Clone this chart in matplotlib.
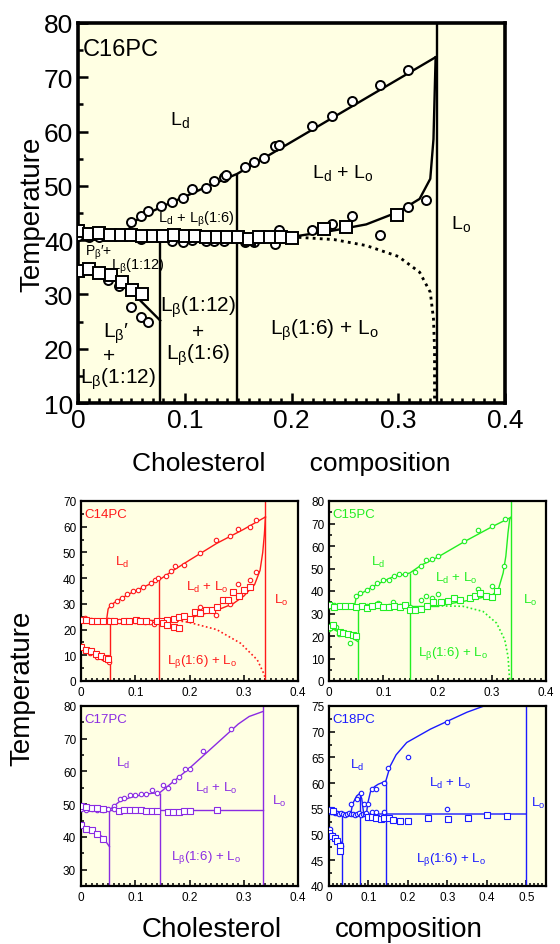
import matplotlib
matplotlib.use('Agg')
import matplotlib.pyplot as plt
from matplotlib.ticker import MultipleLocator, FuncFormatter

plt.rcParams['font.family'] = ['Liberation Sans', 'DejaVu Sans']
plt.rcParams['mathtext.fontset'] = 'custom'
plt.rcParams['mathtext.rm'] = 'Liberation Sans'

BG = '#ffffe3'

# ---------------- C16PC (main panel) ----------------
c16_liq_x = [0.050, 0.059, 0.066, 0.078, 0.088, 0.098, 0.107, 0.120, 0.127, 0.137, 0.139,
             0.156, 0.165, 0.174, 0.185, 0.188, 0.219, 0.238, 0.257, 0.283, 0.309]
c16_liq_t = [43.3, 44.4, 45.3, 46.3, 47.0, 47.7, 49.4, 49.6, 50.9, 51.7, 52.0,
             53.4, 54.4, 55.2, 57.4, 57.5, 61.0, 62.8, 65.7, 68.5, 71.3]
c16_sol_x = [0.0, 0.01, 0.02, 0.059, 0.088, 0.098, 0.107, 0.120, 0.127, 0.137, 0.156, 0.165,
             0.185, 0.188, 0.219, 0.238, 0.257, 0.283, 0.309, 0.326]
c16_sol_t = [40.7, 40.6, 40.6, 40.2, 39.8, 39.6, 40.0, 39.8, 39.8, 39.8, 39.6, 39.7,
             39.2, 41.9, 41.9, 42.9, 44.4, 41.0, 46.1, 47.4]
c16_pre_cx = [0.028, 0.038, 0.050, 0.059, 0.066]
c16_pre_ct = [32.7, 31.5, 27.7, 25.8, 25.0]
c16_sq_x = [0.0, 0.01, 0.02, 0.03, 0.04, 0.05, 0.06, 0.07, 0.08, 0.09, 0.10, 0.11, 0.12, 0.13,
            0.14, 0.15, 0.16, 0.17, 0.18, 0.19, 0.20, 0.23, 0.251, 0.299]
c16_sq_t = [41.7, 41.2, 41.3, 41.0, 40.9, 40.9, 40.8, 40.8, 40.7, 40.9, 40.7, 40.7, 40.6, 40.5,
            40.5, 40.5, 40.3, 40.5, 40.5, 40.5, 40.4, 42.1, 42.5, 44.7]
c16_pre_sx = [0.0, 0.01, 0.02, 0.031, 0.041, 0.051, 0.060]
c16_pre_st = [34.4, 34.6, 34.0, 33.6, 32.2, 30.9, 30.1]
c16_ld_x = [0.045, 0.050, 0.060, 0.080, 0.100, 0.120, 0.149, 0.335]
c16_ld_t = [40.7, 43.0, 44.4, 46.3, 48.0, 49.8, 52.2, 73.7]
c16_lo_x = [0.20, 0.24, 0.27, 0.30, 0.32, 0.33, 0.333, 0.335]
c16_lo_t = [40.6, 41.8, 42.9, 45.2, 47.6, 51.3, 58.6, 73.7]
c16_tm_x = [0.0, 0.20]
c16_tm_t = [40.7, 40.6]
c16_dot_x = [0.20, 0.24, 0.27, 0.30, 0.32, 0.33, 0.333, 0.334, 0.334]
c16_dot_t = [40.6, 40.1, 39.0, 37.0, 34.1, 30.4, 25.5, 20.0, 10.0]
c16_pl_x = [0.0, 0.03, 0.045, 0.077]
c16_pl_t = [34.5, 33.3, 31.5, 25.2]
c16_vx = [0.077, 0.149, 0.336]
c16_vtop = [40.7, 52.2, 80]

# ---------------- C14PC ----------------
c14_liq_x = [0.055, 0.066, 0.076, 0.085, 0.096, 0.105, 0.115, 0.129, 0.136, 0.142, 0.157, 0.165,
             0.174, 0.190, 0.219, 0.249, 0.275, 0.289, 0.311, 0.323]
c14_liq_t = [29.4, 31.0, 32.3, 34.0, 34.9, 35.3, 36.5, 38.1, 39.2, 40.1, 41.0, 42.7,
             44.9, 45.3, 49.8, 54.8, 56.3, 59.3, 59.9, 62.8]
c14_sol_x = [0.0, 0.008, 0.018, 0.03, 0.04, 0.05, 0.07, 0.085, 0.10, 0.118, 0.128, 0.135,
             0.150, 0.160, 0.219, 0.249, 0.275, 0.289, 0.311, 0.323]
c14_sol_t = [24.2, 24.5, 23.8, 23.5, 23.4, 23.6, 23.4, 23.2, 23.3, 23.0, 22.9, 22.0,
             22.6, 22.3, 28.8, 25.8, 30.0, 37.9, 39.2, 42.3]
c14_pre_cx = [0.0, 0.017, 0.03, 0.04, 0.052]
c14_pre_ct = [13.8, 10.8, 9.5, 8.9, 7.4]
c14_sq_x = [0.0, 0.01, 0.02, 0.03, 0.04, 0.053, 0.06, 0.08, 0.088, 0.102, 0.109, 0.12, 0.14,
            0.15, 0.159, 0.171, 0.151, 0.158, 0.171, 0.18, 0.18, 0.19, 0.20, 0.211, 0.22, 0.23,
            0.242, 0.251, 0.261, 0.271, 0.281, 0.291, 0.301, 0.311]
c14_sq_t = [23.8, 23.6, 23.4, 23.4, 23.4, 23.5, 23.4, 23.2, 23.3, 23.6, 23.2, 23.2, 23.3,
            23.4, 23.9, 24.0, 22.5, 21.9, 21.0, 20.6, 24.7, 25.4, 24.2, 26.7, 26.4, 27.5,
            27.5, 28.8, 31.4, 31.4, 34.6, 33.2, 35.3, 36.6]
c14_pre_sx = [0.0, 0.01, 0.018, 0.028, 0.036, 0.046, 0.05]
c14_pre_st = [13.4, 12.1, 11.5, 10.4, 9.9, 9.1, 8.4]
c14_ld_x = [0.047, 0.050, 0.055, 0.07, 0.09, 0.11, 0.13, 0.144, 0.17, 0.20, 0.25, 0.30, 0.34]
c14_ld_t = [23.6, 28.0, 29.6, 31.6, 34.0, 36.0, 38.0, 39.3, 43.0, 47.0, 53.5, 59.0, 63.8]
c14_lo_x = [0.17, 0.20, 0.25, 0.28, 0.30, 0.32, 0.33, 0.335, 0.338, 0.34]
c14_lo_t = [23.6, 24.5, 27.5, 30.0, 33.0, 37.5, 43.0, 50.0, 57.0, 63.8]
c14_tm_x = [0.0, 0.17]
c14_tm_t = [23.6, 23.6]
c14_dot_x = [0.17, 0.197, 0.25, 0.294, 0.325, 0.338, 0.34]
c14_dot_t = [23.6, 22.9, 20.0, 14.7, 8.2, 2.4, 0.0]
c14_pl_x = [0.0, 0.02, 0.04, 0.054]
c14_pl_t = [13.2, 11.2, 9.5, 7.0]
c14_vx = [0.054, 0.144, 0.34]
c14_vtop = [23.6, 39.3, 70]

# ---------------- C15PC ----------------
c15_liq_x = [0.049, 0.058, 0.070, 0.079, 0.089, 0.100, 0.110, 0.119, 0.129, 0.140, 0.159, 0.169,
             0.178, 0.189, 0.200, 0.249, 0.274, 0.300, 0.324, 0.323]
c15_liq_t = [37.9, 39.1, 40.6, 41.8, 43.6, 44.8, 45.1, 46.8, 47.6, 47.7, 48.3, 51.3,
             54.0, 54.4, 55.5, 62.2, 67.1, 68.8, 71.8, 51.0]
c15_sol_x = [0.0, 0.01, 0.03, 0.05, 0.07, 0.09, 0.11, 0.118, 0.13, 0.15, 0.169, 0.178, 0.189,
             0.200, 0.274, 0.300]
c15_sol_t = [33.5, 34.0, 33.2, 33.0, 33.2, 34.5, 33.5, 34.9, 33.4, 33.0, 36.1, 37.9, 36.9,
             38.8, 40.9, 42.1]
c15_pre_cx = [0.0, 0.012, 0.018, 0.038]
c15_pre_ct = [23.0, 24.2, 21.0, 16.8]
c15_sq_x = [0.0, 0.01, 0.02, 0.03, 0.04, 0.05, 0.06, 0.07, 0.08, 0.09, 0.10, 0.11, 0.12, 0.13,
            0.14, 0.149, 0.158, 0.169, 0.18, 0.192, 0.207, 0.22, 0.23, 0.241, 0.26, 0.269,
            0.279, 0.29, 0.30, 0.31]
c15_sq_t = [33.6, 33.0, 33.2, 33.4, 33.3, 33.0, 33.2, 32.6, 33.4, 33.8, 33.0, 32.8, 33.5, 33.0,
            33.6, 31.4, 31.4, 32.0, 33.5, 34.9, 34.9, 35.4, 36.9, 36.1, 36.9, 37.6,
            39.1, 37.6, 37.3, 39.9]
c15_pre_sx = [0.0, 0.007, 0.02, 0.026, 0.035, 0.044, 0.05]
c15_pre_st = [24.2, 25.0, 22.0, 21.3, 21.0, 20.5, 20.0]
c15_ld_x = [0.047, 0.05, 0.06, 0.08, 0.10, 0.12, 0.14, 0.149, 0.17, 0.20, 0.25, 0.30, 0.335]
c15_ld_t = [33.3, 37.0, 39.0, 41.8, 44.3, 46.5, 47.5, 48.0, 51.5, 55.0, 62.0, 68.5, 72.7]
c15_lo_x = [0.20, 0.25, 0.30, 0.312, 0.321, 0.326, 0.33, 0.333, 0.335]
c15_lo_t = [33.4, 35.5, 38.0, 40.6, 48.0, 55.5, 65.9, 71.8, 72.7]
c15_tm_x = [0.0, 0.20]
c15_tm_t = [33.4, 33.4]
c15_dot_x = [0.20, 0.247, 0.284, 0.309, 0.324, 0.33, 0.333]
c15_dot_t = [33.4, 33.2, 30.9, 25.7, 18.3, 10.9, 0.3]
c15_pl_x = [0.0, 0.02, 0.04, 0.0535]
c15_pl_t = [24.0, 21.5, 19.5, 17.5]
c15_vx = [0.0535, 0.149, 0.335]
c15_vtop = [33.4, 48.0, 80]

# ---------------- C17PC ----------------
c17_liq_x = [0.06, 0.071, 0.08, 0.091, 0.10, 0.11, 0.12, 0.131, 0.141, 0.151, 0.16, 0.171,
             0.181, 0.191, 0.20, 0.225, 0.276]
c17_liq_t = [49.4, 51.7, 51.9, 52.8, 52.8, 53.2, 53.2, 54.3, 53.3, 55.8, 54.8, 57.2,
             58.3, 60.8, 60.8, 66.4, 73.1]
c17_sol_x = [0.0, 0.01, 0.02, 0.03, 0.04, 0.05, 0.06]
c17_sol_t = [48.4, 48.3, 48.4, 48.3, 48.2, 48.4, 48.6]
c17_sq_x = [0.0, 0.01, 0.02, 0.03, 0.04, 0.07, 0.08, 0.09, 0.10, 0.11, 0.12, 0.13, 0.14,
            0.16, 0.17, 0.18, 0.19, 0.20, 0.25]
c17_sq_t = [49.4, 49.0, 48.8, 48.7, 48.6, 48.0, 48.3, 48.2, 48.2, 48.2, 48.0, 48.0, 48.0,
            47.7, 47.7, 47.6, 48.0, 48.0, 48.2]
c17_pre_sx = [0.0, 0.01, 0.02, 0.03, 0.04]
c17_pre_st = [43.6, 42.4, 42.0, 41.0, 39.4]
c17_ld_x = [0.0525, 0.06, 0.07, 0.09, 0.11, 0.13, 0.145, 0.16, 0.20, 0.25, 0.29, 0.31, 0.335]
c17_ld_t = [48.2, 49.3, 50.7, 52.0, 52.8, 53.3, 53.5, 55.5, 61.0, 68.5, 74.5, 76.8, 78.3]
c17_tm_x = [0.0, 0.335]
c17_tm_t = [48.2, 48.2]
c17_pl_x = [0.0, 0.02, 0.04, 0.0525]
c17_pl_t = [43.8, 42.0, 40.0, 37.0]
c17_vx = [0.0525, 0.145, 0.335]
c17_vtop = [48.2, 53.5, 80]

# ---------------- C18PC ----------------
c18_liq_x = [0.057, 0.070, 0.080, 0.088, 0.099, 0.108, 0.119, 0.140, 0.149, 0.199, 0.299]
c18_liq_t = [55.9, 57.0, 58.0, 55.9, 55.9, 58.9, 58.9, 60.0, 62.9, 65.0, 71.9]
c18_sol_x = [0.0, 0.005, 0.01, 0.015, 0.02, 0.025, 0.03, 0.035, 0.04, 0.045, 0.05, 0.055,
             0.06, 0.065, 0.07, 0.075, 0.08, 0.085, 0.09, 0.095, 0.108, 0.119, 0.140, 0.299]
c18_sol_t = [54.6, 54.4, 54.3, 54.2, 54.1, 54.0, 54.1, 54.0, 53.9, 54.0, 54.1, 54.0,
             54.0, 53.9, 54.0, 54.1, 53.8, 54.0, 54.0, 54.1, 54.4, 54.4, 54.4, 54.9]
c18_pre_cx = [0.0, 0.003, 0.006, 0.01, 0.014, 0.018, 0.022, 0.026, 0.03]
c18_pre_ct = [50.7, 51.0, 50.2, 49.8, 49.6, 49.2, 48.7, 48.3, 47.8]
c18_sq_x = [0.0, 0.005, 0.01, 0.098, 0.108, 0.119, 0.131, 0.14, 0.151, 0.161, 0.179, 0.199,
            0.25, 0.301, 0.353, 0.401, 0.452]
c18_sq_t = [54.8, 54.7, 54.5, 53.4, 53.5, 53.2, 53.1, 53.2, 53.2, 52.8, 52.6, 52.6,
            53.2, 53.0, 53.3, 53.8, 53.7]
c18_pre_sx = [0.0, 0.008, 0.015, 0.021, 0.027, 0.029]
c18_pre_st = [50.4, 49.8, 49.4, 48.7, 47.8, 46.8]
c18_ld_x = [0.144, 0.155, 0.17, 0.197, 0.257, 0.299, 0.35, 0.393, 0.45]
c18_ld_t = [60.4, 63.3, 65.5, 67.9, 70.5, 72.0, 73.8, 75.0, 76.0]
c18_d1_x = [0.055, 0.06, 0.07, 0.078, 0.083, 0.088]
c18_d1_t = [54.0, 56.0, 57.5, 58.0, 57.0, 54.0]
c18_d2_x = [0.095, 0.098, 0.105, 0.115, 0.125, 0.135, 0.144]
c18_d2_t = [54.0, 56.0, 58.3, 59.3, 59.8, 60.1, 60.4]
c18_tm_x = [0.0, 0.03, 0.05, 0.5]
c18_tm_t = [54.9, 54.3, 54.0, 54.0]
c18_pl_x = [0.0, 0.015, 0.034]
c18_pl_t = [50.5, 49.3, 47.3]
c18_vx = [0.034, 0.078, 0.144, 0.5]
c18_vtop = [54.2, 58.0, 60.4, 75]

LD = r'$\mathregular{L_d}$'
LO = r'$\mathregular{L_o}$'
LB = r'$\mathregular{L_β}$'
LDLO = LD + ' + ' + LO
LBLO = LB + '(1:6) + ' + LO


def fmt(v, pos):
    return '0' if abs(v) < 1e-9 else ('%g' % v)


def style(ax, xlim, ylim, ymaj, ymin, xmaj, xmin, lw, tsize, tlen):
    ax.set_facecolor(BG)
    ax.set_xlim(*xlim)
    ax.set_ylim(*ylim)
    ax.xaxis.set_major_locator(MultipleLocator(xmaj))
    ax.xaxis.set_minor_locator(MultipleLocator(xmin))
    ax.yaxis.set_major_locator(MultipleLocator(ymaj))
    ax.yaxis.set_minor_locator(MultipleLocator(ymin))
    ax.xaxis.set_major_formatter(FuncFormatter(fmt))
    for s in ax.spines.values():
        s.set_linewidth(lw)
    ax.tick_params(which='both', direction='in', top=False, right=False,
                   width=lw * 0.7, labelsize=tsize)
    ax.tick_params(which='major', length=tlen)
    ax.tick_params(which='minor', length=tlen * 0.55)


def draw(ax, c, lw, ybot, cms, sms, mew, lines, dots, verts, vtops, circles, squares):
    for x, t in lines:
        ax.plot(x, t, color=c, lw=lw, zorder=2)
    for x, t in dots:
        ax.plot(x, t, color=c, lw=lw * 1.2, ls=(0, (1, 1.5)), zorder=2)
    ax.vlines(verts, ybot, vtops, color=c, lw=lw, zorder=2)
    for x, t in circles:
        ax.plot(x, t, 'o', ms=cms, mfc='white', mec=c, mew=mew, ls='none', zorder=3)
    for x, t in squares:
        ax.plot(x, t, 's', ms=sms, mfc='white', mec=c, mew=mew, ls='none', zorder=4)


fig = plt.figure(figsize=(5.6, 9.45), dpi=100)

# ---- main panel ----
ax = fig.add_axes([78 / 560, 1 - 404 / 945, 427 / 560, 380 / 945])
style(ax, (0, 0.4), (10, 80), 10, 5, 0.1, 0.01, 2.6, 19, 7)
draw(ax, 'black', 1.7, 10, 6.5, 8, 1.4,
     [(c16_ld_x, c16_ld_t), (c16_lo_x, c16_lo_t), (c16_tm_x, c16_tm_t), (c16_pl_x, c16_pl_t)],
     [(c16_dot_x, c16_dot_t)], c16_vx, c16_vtop,
     [(c16_liq_x, c16_liq_t), (c16_sol_x, c16_sol_t), (c16_pre_cx, c16_pre_ct)],
     [(c16_sq_x, c16_sq_t), (c16_pre_sx, c16_pre_st)])
ax.text(0.004, 75.2, 'C16PC', fontsize=17, ha='left', va='center')
ax.text(0.095, 62.3, LD, fontsize=14, ha='center', va='center')
ax.text(0.248, 52.5, LDLO, fontsize=14, ha='center', va='center')
ax.text(0.359, 43.2, LO, fontsize=14, ha='center', va='center')
ax.text(0.111, 44.0, LD + ' + ' + LB + '(1:6)', fontsize=10.5, ha='center', va='center')
ax.text(0.019, 37.9, r'$\mathregular{P_β}$′+', fontsize=10, ha='center', va='center')
ax.text(0.056, 35.3, LB + '(1:12)', fontsize=10.5, ha='center', va='center')
ax.text(0.036, 23.0, LB + '′', fontsize=15, ha='center', va='center')
ax.text(0.029, 18.7, '+', fontsize=15, ha='center', va='center')
ax.text(0.037, 14.6, LB + '(1:12)', fontsize=15, ha='center', va='center')
ax.text(0.1125, 27.8, LB + '(1:12)', fontsize=15, ha='center', va='center')
ax.text(0.1125, 23.2, '+', fontsize=15, ha='center', va='center')
ax.text(0.1125, 19.0, LB + '(1:6)', fontsize=15, ha='center', va='center')
ax.text(0.231, 23.6, LBLO, fontsize=15, ha='center', va='center')
ax.set_ylabel('Temperature', fontsize=20, labelpad=-1)
ax.set_xlabel('Cholesterol      composition', fontsize=19, labelpad=14)

# ---- small panels ----
small = [
    ([81, 502], '#ff1a1a', 'C14PC', (0, 0.4), (0, 70), 10, 0.1,
     [(c14_ld_x, c14_ld_t), (c14_lo_x, c14_lo_t), (c14_tm_x, c14_tm_t), (c14_pl_x, c14_pl_t)],
     [(c14_dot_x, c14_dot_t)], c14_vx, c14_vtop,
     [(c14_liq_x, c14_liq_t), (c14_sol_x, c14_sol_t), (c14_pre_cx, c14_pre_ct)],
     [(c14_sq_x, c14_sq_t), (c14_pre_sx, c14_pre_st)],
     [(0.076, 46.6), (0.232, 36.8), (0.368, 31.6), (0.223, 8.0)]),
    ([329, 502], '#22ee22', 'C15PC', (0, 0.4), (0, 80), 10, 0.1,
     [(c15_ld_x, c15_ld_t), (c15_lo_x, c15_lo_t), (c15_tm_x, c15_tm_t), (c15_pl_x, c15_pl_t)],
     [(c15_dot_x, c15_dot_t)], c15_vx, c15_vtop,
     [(c15_liq_x, c15_liq_t), (c15_sol_x, c15_sol_t), (c15_pre_cx, c15_pre_ct)],
     [(c15_sq_x, c15_sq_t), (c15_pre_sx, c15_pre_st)],
     [(0.09, 53.2), (0.235, 45.8), (0.37, 36.1), (0.229, 12.8)]),
    ([81, 707], '#8a2be2', 'C17PC', (0, 0.4), (25, 80), 10, 0.1,
     [(c17_ld_x, c17_ld_t), (c17_tm_x, c17_tm_t), (c17_pl_x, c17_pl_t)],
     [], c17_vx, c17_vtop,
     [(c17_liq_x, c17_liq_t), (c17_sol_x, c17_sol_t)],
     [(c17_sq_x, c17_sq_t), (c17_pre_sx, c17_pre_st)],
     [(0.077, 62.7), (0.25, 55.2), (0.365, 51.1), (0.23, 34.1)]),
    ([329, 707], '#1a1aff', 'C18PC', (0, 0.55), (40, 75), 5, 0.1,
     [(c18_ld_x, c18_ld_t), (c18_d1_x, c18_d1_t), (c18_d2_x, c18_d2_t),
      (c18_tm_x, c18_tm_t), (c18_pl_x, c18_pl_t)],
     [], c18_vx, c18_vtop,
     [(c18_liq_x, c18_liq_t), (c18_sol_x, c18_sol_t), (c18_pre_cx, c18_pre_ct)],
     [(c18_sq_x, c18_sq_t), (c18_pre_sx, c18_pre_st)],
     [(0.07, 63.7), (0.306, 60.1), (0.53, 56.2), (0.308, 45.3)]),
]

for (px, c, name, xl, yl, ym, xm, lines, dots, vx, vt, circ, sq, labs) in small:
    a = fig.add_axes([px[0] / 560, 1 - (px[1] + 180) / 945, 217 / 560, 180 / 945])
    style(a, xl, yl, ym, ym / 2, xm, 0.01, 1.6, 8.5, 4)
    draw(a, c, 1.0, yl[0], 3.2, 3.8, 0.8, lines, dots, vx, vt, circ, sq)
    a.text(0.015, 0.93, name, transform=a.transAxes, color=c, fontsize=9.5,
           ha='left', va='center')
    for (x, t), s in zip(labs, [LD, LDLO, LO, LBLO]):
        a.text(x, t, s, color=c, fontsize=9.5, ha='center', va='center')

fig.text(22 / 560, 1 - 688 / 945, 'Temperature', rotation=90, fontsize=20,
         ha='center', va='center')
fig.text(212 / 560, 1 - 930 / 945, 'Cholesterol', fontsize=20, ha='center', va='center')
fig.text(409 / 560, 1 - 930 / 945, 'composition', fontsize=20, ha='center', va='center')

fig.savefig('out.png', dpi=100, facecolor='white')
